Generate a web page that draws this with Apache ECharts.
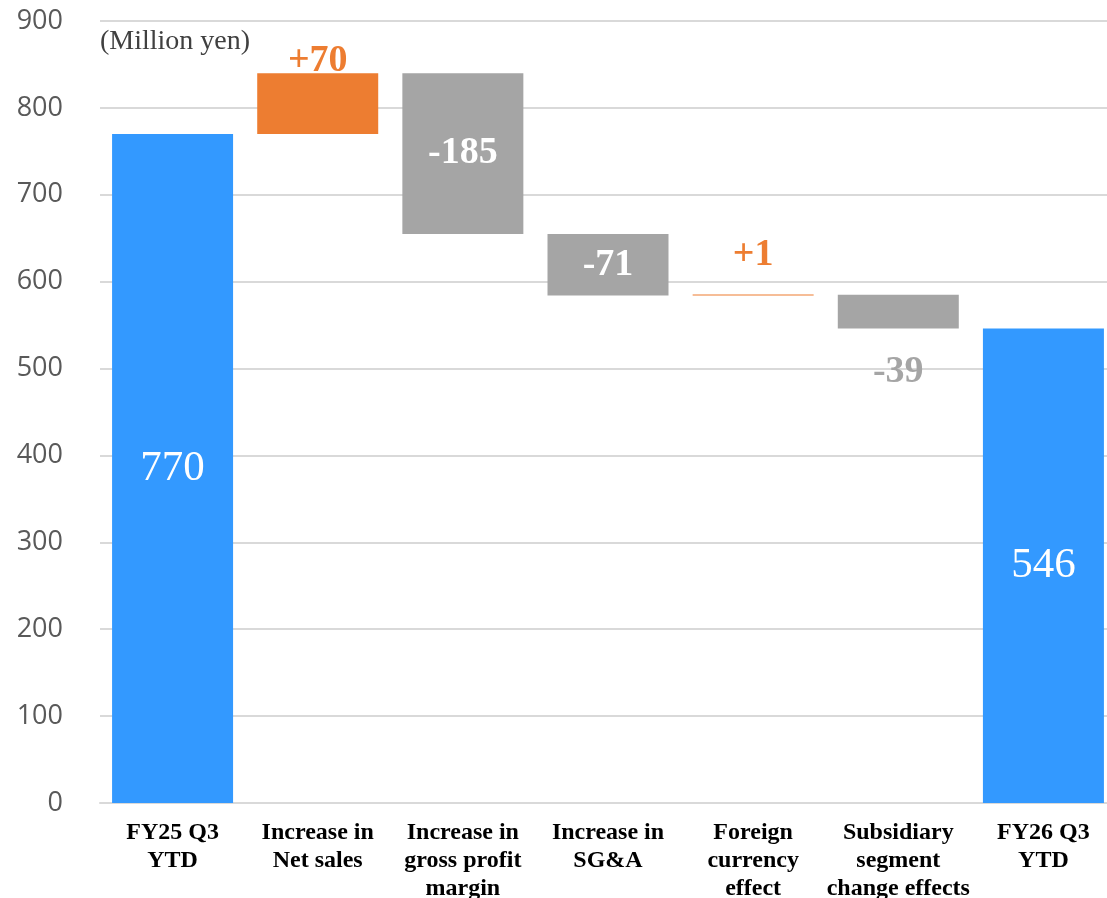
<!DOCTYPE html>
<html>
<head>
<meta charset="utf-8">
<script src="https://cdn.jsdelivr.net/npm/echarts@6/dist/echarts.min.js"></script>
<style>
  html, body { margin: 0; padding: 0; background: #fff; }
  #chart { width: 1107px; height: 898px; }
</style>
</head>
<body>
<div id="chart"></div>
<script>
const categories = [
  'FY25 Q3\nYTD',
  'Increase in\nNet sales',
  'Increase in\ngross profit\nmargin',
  'Increase in\nSG&A',
  'Foreign\ncurrency\neffect',
  'Subsidiary\nsegment\nchange effects',
  'FY26 Q3\nYTD'
]
const startTotal = 770
const endTotal = 546
// change for each middle step (positive = increase, negative = decrease)
const changes = [70, -185, -71, 1, -39]
const yTicks = [0, 100, 200, 300, 400, 500, 600, 700, 800, 900]

const colors = {
  total: '#3399FF',
  up: '#ED7D31',
  down: '#A5A5A5'
}

// build stacked waterfall columns
const totals = [startTotal, '-', '-', '-', '-', '-', endTotal]
const base = ['-']
const ups = ['-']
const downs = ['-']
let running = startTotal
changes.forEach(c => {
  if (c >= 0) {
    base.push(running)
    ups.push(c)
    downs.push('-')
  } else {
    base.push(running + c)
    ups.push('-')
    downs.push(-c)
  }
  running += c
})
base.push('-'); ups.push('-'); downs.push('-')

const serif = '"Liberation Serif", "Times New Roman", serif'

// per-item label tweaks to follow the original placement
const upsData = ups.map(v => {
  if (v === 1) return { value: v, label: { distance: 20 } }
  return v
})
const downsData = downs.map(v => {
  if (v === 39) {
    return { value: v, label: { position: 'bottom', distance: 25, color: colors.down } }
  }
  return v
})

const chart = echarts.init(document.getElementById('chart'))
chart.setOption({
  animation: false,
  title: {
    text: '(Million yen)',
    left: 95,
    top: 23,
    textStyle: { fontFamily: serif, fontWeight: 'normal', fontSize: 28, color: '#404040' }
  },
  grid: { left: 100, top: 21, width: 1016, height: 782, outerBoundsMode: 'none' },
  xAxis: {
    type: 'category',
    data: categories,
    axisLine: { lineStyle: { color: '#d9d9d9', width: 2 } },
    axisTick: { alignWithLabel: true, length: 6, lineStyle: { color: '#d9d9d9', width: 2 } },
    axisLabel: {
      interval: 0,
      margin: 16,
      fontFamily: serif,
      fontWeight: 'bold',
      fontSize: 24,
      lineHeight: 28,
      color: '#000'
    }
  },
  yAxis: {
    type: 'value',
    min: yTicks[0],
    max: yTicks[yTicks.length - 1],
    interval: 100,
    axisLine: { show: false },
    axisTick: { show: false },
    splitLine: { lineStyle: { color: '#d9d9d9', width: 2 } },
    axisLabel: { margin: 37, fontFamily: '"Open Sans", sans-serif', fontSize: 27, color: '#595959' }
  },
  series: [
    {
      name: 'base',
      type: 'bar',
      stack: 'w',
      barWidth: 121,
      itemStyle: { color: 'transparent' },
      data: base
    },
    {
      name: 'total',
      type: 'bar',
      stack: 'w',
      barWidth: 121,
      itemStyle: { color: colors.total },
      label: {
        show: true,
        position: 'inside',
        fontFamily: serif,
        fontSize: 43,
        color: '#fff'
      },
      data: totals
    },
    {
      name: 'up',
      type: 'bar',
      stack: 'w',
      barWidth: 121,
      barMinHeight: 1,
      itemStyle: { color: colors.up },
      label: {
        show: true,
        position: 'top',
        distance: -7,
        fontFamily: serif,
        fontWeight: 'bold',
        fontSize: 38,
        color: colors.up,
        formatter: p => '+' + p.value
      },
      data: upsData
    },
    {
      name: 'down',
      type: 'bar',
      stack: 'w',
      barWidth: 121,
      itemStyle: { color: colors.down },
      label: {
        show: true,
        position: 'inside',
        fontFamily: serif,
        fontWeight: 'bold',
        fontSize: 38,
        color: '#fff',
        formatter: p => '-' + p.value
      },
      data: downsData
    }
  ]
})
</script>
</body>
</html>
